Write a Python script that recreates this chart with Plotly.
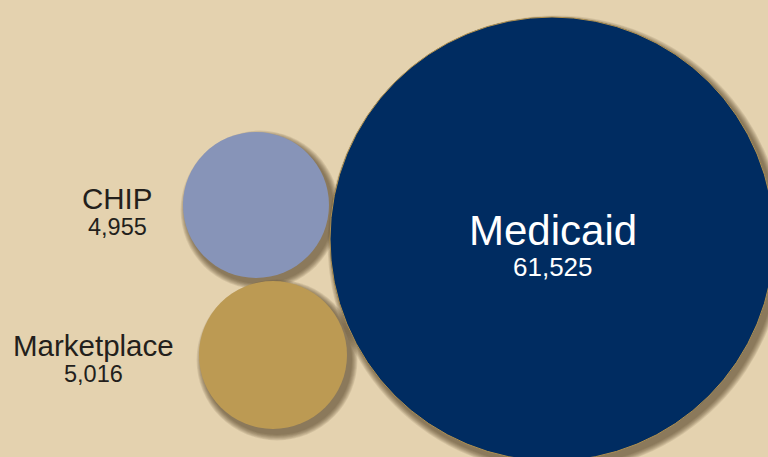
import plotly.graph_objects as go

# ---- data ----
categories = ["CHIP", "Marketplace", "Medicaid"]
values = [4955, 5016, 61525]

# ---- layout (pixel space) ----
W, H = 768, 457
centers_x = [256, 273, 552]
centers_y = [205, 355, 239]
radii = [73, 74, 222]
fills = ["#8794B8", "#BC9A53", "#002C61"]
outlines = [None, None, "#B0904E"]

name_pos = [(117, 198), (93, 345), (553, 230)]
value_pos = [(117, 227), (93, 374), (553, 267)]
name_sizes = [29.5, 29.5, 42]
value_sizes = [23.5, 23.5, 26]
text_colors = ["#231F1C", "#231F1C", "#FFFFFF"]

BG = "#E4D2AF"
FONT = "Liberation Sans, Arial, Helvetica, sans-serif"

fig = go.Figure()
shapes = []
# soft drop shadows
for cx, cy, r in zip(centers_x, centers_y, radii):
    for k in range(7):
        rr = r + 1 + k * 0.9
        shapes.append(dict(type="circle", xref="x", yref="y",
                           x0=cx + 4 - rr, x1=cx + 4 + rr,
                           y0=cy + 5 - rr, y1=cy + 5 + rr,
                           fillcolor="rgba(70,52,25,0.11)",
                           line=dict(width=0), layer="below"))
for cx, cy, r, f, o in zip(centers_x, centers_y, radii, fills, outlines):
    shapes.append(dict(type="circle", xref="x", yref="y",
                       x0=cx - r, x1=cx + r, y0=cy - r, y1=cy + r,
                       fillcolor=f,
                       line=dict(width=1 if o else 0, color=o or f),
                       layer="below"))

annotations = []
for i, cat in enumerate(categories):
    annotations.append(dict(x=name_pos[i][0], y=name_pos[i][1], xref="x", yref="y",
                            text=cat, showarrow=False, xanchor="center", yanchor="middle",
                            font=dict(family=FONT, size=name_sizes[i], color=text_colors[i])))
    annotations.append(dict(x=value_pos[i][0], y=value_pos[i][1], xref="x", yref="y",
                            text=f"{values[i]:,}", showarrow=False, xanchor="center", yanchor="middle",
                            font=dict(family=FONT, size=value_sizes[i], color=text_colors[i])))

fig.add_trace(go.Scatter(x=[0, W], y=[0, H], mode="markers",
                         marker=dict(opacity=0), hoverinfo="skip", showlegend=False))

fig.update_layout(
    width=W, height=H,
    margin=dict(l=0, r=0, t=0, b=0),
    paper_bgcolor=BG, plot_bgcolor=BG,
    xaxis=dict(range=[0, W], visible=False, fixedrange=True),
    yaxis=dict(range=[H, 0], visible=False, fixedrange=True),
    shapes=shapes, annotations=annotations,
    showlegend=False,
)

fig.write_html("out.html")
